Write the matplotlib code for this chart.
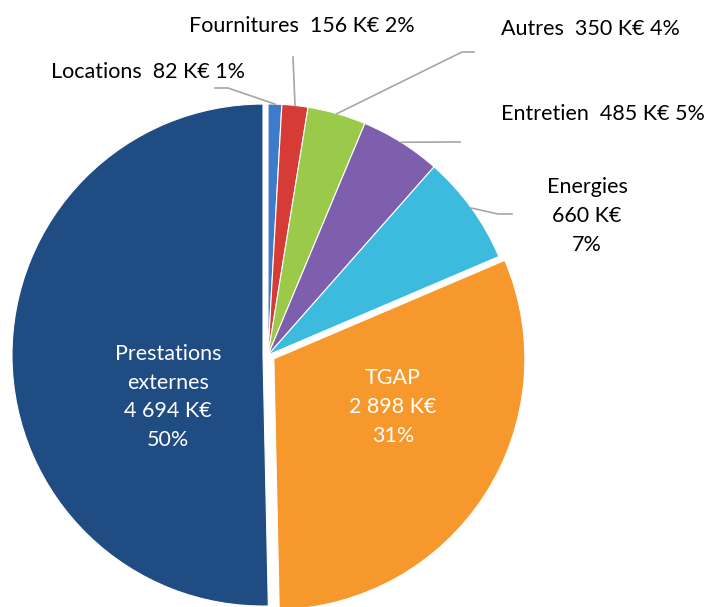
import numpy as np
import matplotlib
matplotlib.use("Agg")
import matplotlib.pyplot as plt

# Budget split, K€ (clockwise from the top)
categories = ["Locations", "Fournitures", "Autres", "Entretien",
              "Energies", "TGAP", "Prestations externes"]
values = [82, 156, 350, 485, 660, 2898, 4694]
colors = ["#3D7CCB", "#D63B36", "#9BC94A", "#7E5FAE",
          "#3DBBDE", "#F7982C", "#1F4C82"]
explode_px = [0, 0, 0, 0, 0, 7, 5]

W, H = 706, 607
CX, CY, R = 268, H - 355, 251

plt.rcParams["font.family"] = ["Lato", "DejaVu Sans"]


def fmt_k(v):
    return f"{v:,}".replace(",", " ") + " K€"


def main():
    fig = plt.figure(figsize=(W / 100, H / 100), dpi=100)
    ax = fig.add_axes([0, 0, 1, 1])

    total = sum(values)
    pcts = [round(v / total * 100) for v in values]

    wedges, _ = ax.pie(
        values,
        colors=colors,
        startangle=90,
        counterclock=False,
        radius=R,
        center=(CX, CY),
        explode=explode_px,
        wedgeprops=dict(edgecolor="white", linewidth=0.8),
        frame=True,
    )
    ax.set_xlim(0, W)
    ax.set_ylim(0, H)
    ax.axis("off")

    def edge_point(i):
        w = wedges[i]
        mid = np.deg2rad((w.theta1 + w.theta2) / 2)
        cx, cy = w.center
        return cx + w.r * np.cos(mid), cy + w.r * np.sin(mid)

    fs = 15.5
    ls = 1.55
    line_kw = dict(color="#A6A6A6", linewidth=1.2)

    # outside labels: text, centre x, centre y (px from top), elbow points
    outside = {
        0: (f"{categories[0]}  {values[0]} K€ {pcts[0]}%", 148, 72,
            [(228, 88), (215, 88)]),
        1: (f"{categories[1]}  {values[1]} K€ {pcts[1]}%", 302, 26,
            [(293, 57)]),
        2: (f"{categories[2]}  {values[2]} K€ {pcts[2]}%", 590, 29,
            [(462, 52), (474, 52)]),
        3: (f"{categories[3]}  {values[3]} K€ {pcts[3]}%", 603, 114,
            [(450, 142), (460, 142)]),
        4: (f"{categories[4]}\n{values[4]} K€\n{pcts[4]}%", 587, 216,
            [(498, 214), (512, 214)]),
    }
    for i, (txt, x, y, pts) in outside.items():
        sx, sy = edge_point(i)
        xs = [sx] + [p[0] for p in pts]
        ys = [sy] + [H - p[1] for p in pts]
        ax.plot(xs, ys, **line_kw)
        ax.text(x, H - y, txt, ha="center", va="center", fontsize=fs,
                color="#000000", linespacing=ls)

    ax.text(393, H - 407, f"{categories[5]}\n{fmt_k(values[5])}\n{pcts[5]}%",
            ha="center", va="center", fontsize=fs, color="white",
            linespacing=ls)
    ax.text(168, H - 397,
            f"Prestations\nexternes\n{fmt_k(values[6])}\n{pcts[6]}%",
            ha="center", va="center", fontsize=fs, color="white",
            linespacing=ls)

    fig.savefig("out.png", dpi=100, facecolor="white")
    plt.close(fig)


if __name__ == "__main__":
    main()
